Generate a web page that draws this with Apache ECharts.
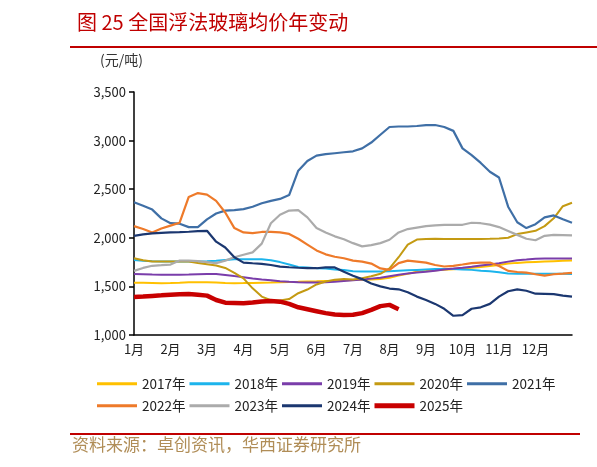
<!DOCTYPE html>
<html>
<head>
<meta charset="utf-8">
<script src="https://cdn.jsdelivr.net/npm/echarts@6/dist/echarts.min.js"></script>
<style>
html,body{margin:0;padding:0;background:#fff;}
#c{width:597px;height:467px;}
</style>
</head>
<body>
<div id="c"></div>
<script>
// Sampled every quarter month, starting Jan 1 (x = index * 0.25 months)
const seriesNames = ['2017年','2018年','2019年','2020年','2021年','2022年','2023年','2024年','2025年'];
const monthLabels = ['1月','2月','3月','4月','5月','6月','7月','8月','9月','10月','11月','12月'];
const yTicks = [1000,1500,2000,2500,3000,3500];

const y2017 = [1538,1537,1535,1533,1535,1538,1542,1543,1543,1540,1535,1533,1534,1536,1538,1540,1543,1545,1547,1550,1552,1555,1558,1562,1565,1568,1570,1575,1590,1612,1630,1650,1658,1665,1672,1677,1685,1692,1700,1710,1720,1735,1742,1748,1752,1756,1760,1763,1766];
const y2018 = [1772,1765,1760,1757,1756,1756,1756,1756,1758,1763,1772,1780,1780,1780,1780,1770,1750,1725,1700,1695,1688,1683,1675,1668,1655,1653,1653,1653,1655,1660,1665,1670,1674,1678,1680,1680,1675,1670,1662,1655,1645,1632,1630,1629,1629,1629,1629,1629,1628];
const y2019 = [1628,1625,1622,1620,1619,1620,1622,1625,1627,1628,1618,1606,1595,1582,1572,1563,1553,1547,1542,1540,1539,1542,1548,1555,1562,1570,1580,1590,1605,1620,1633,1643,1650,1662,1675,1683,1692,1703,1715,1725,1738,1755,1770,1777,1785,1787,1787,1787,1787];
const y2020 = [1790,1770,1757,1756,1756,1756,1755,1740,1728,1715,1690,1640,1582,1480,1395,1358,1355,1370,1430,1468,1520,1550,1568,1575,1570,1585,1605,1630,1685,1800,1930,1982,1987,1990,1988,1987,1987,1987,1988,1990,1993,2000,2038,2055,2072,2120,2200,2325,2360];
const y2021 = [2365,2330,2290,2200,2150,2145,2110,2110,2190,2250,2280,2285,2295,2320,2355,2380,2400,2440,2690,2790,2845,2860,2870,2880,2890,2920,2980,3060,3140,3145,3145,3150,3160,3160,3140,3100,2920,2850,2770,2680,2620,2320,2160,2100,2140,2210,2230,2190,2155];
const y2022 = [2120,2090,2055,2095,2125,2155,2420,2460,2445,2380,2260,2100,2055,2048,2060,2060,2055,2040,1990,1930,1870,1830,1805,1790,1765,1755,1735,1685,1670,1740,1765,1755,1745,1720,1705,1712,1725,1740,1745,1745,1710,1660,1648,1642,1625,1610,1625,1632,1640];
const y2023 = [1660,1690,1712,1718,1725,1766,1766,1760,1750,1740,1765,1800,1825,1850,1940,2150,2237,2280,2285,2210,2100,2055,2015,1985,1945,1912,1925,1945,1980,2055,2090,2105,2120,2128,2132,2134,2134,2155,2150,2135,2110,2070,2030,1990,1975,2020,2030,2028,2025];
const y2024 = [2020,2035,2045,2050,2055,2058,2062,2068,2072,1960,1900,1800,1745,1738,1732,1720,1704,1697,1692,1688,1687,1695,1695,1650,1610,1575,1530,1500,1478,1470,1440,1395,1360,1320,1270,1198,1205,1270,1285,1320,1395,1450,1470,1455,1425,1423,1420,1405,1395];
const y2025 = [1390,1395,1402,1408,1415,1420,1422,1415,1405,1360,1333,1330,1327,1335,1345,1350,1343,1320,1285,1265,1245,1225,1210,1206,1208,1225,1258,1297,1310,1265];

const allY = [y2017,y2018,y2019,y2020,y2021,y2022,y2023,y2024,y2025];
const colors = ['#FFC000','#1CB4EC','#7A3DAA','#C49A12','#3F6FA6','#EE7A2A','#ABABAB','#1B3770','#C80000'];
const widths = [2,2,2,2,2.2,2.2,2.2,2.2,4.5];

const chart = echarts.init(document.getElementById('c'), null, {renderer:'canvas'});
const FONT = '"Noto Sans CJK SC", "Liberation Sans", sans-serif';

const series = allY.map((ys, k) => ({
  name: seriesNames[k],
  type: 'line',
  symbol: 'none',
  smooth: false,
  z: k === 8 ? 10 : 3,
  lineStyle: { color: colors[k], width: widths[k] },
  itemStyle: { color: colors[k] },
  data: ys.map((v, i) => [i * 0.25, v])
}));

const legends = seriesNames.map((n, k) => ({
  data: [n],
  left: 97 + (k % 5) * 92.5,
  top: k < 5 ? 377 : 399,
  icon: 'rect',
  itemWidth: 40,
  itemHeight: k === 8 ? 5 : 3,
  itemGap: 0,
  itemStyle: { color: colors[k] },
  textStyle: { fontFamily: FONT, fontSize: 13.5, color: '#222', padding: [0,0,0,0] },
  padding: 0
}));

chart.setOption({
  backgroundColor: '#fff',
  animation: false,
  title: {
    text: '图 25 全国浮法玻璃均价年变动',
    left: 72, top: 7,
    textStyle: { fontFamily: FONT, fontSize: 20, fontWeight: 'normal', color: '#C00000' }
  },
  legend: legends,
  grid: { left: 134, right: 25, top: 92, bottom: 132, containLabel: false },
  xAxis: {
    type: 'value', min: 0, max: 12, interval: 1,
    axisLine: { show: true, lineStyle: { color: '#000', width: 1.5 } },
    axisTick: { show: false },
    splitLine: { show: false },
    axisLabel: {
      fontFamily: FONT, fontSize: 13, color: '#222', margin: 8,
      formatter: v => (v < 12 ? monthLabels[v] : '')
    }
  },
  yAxis: {
    type: 'value', min: yTicks[0], max: yTicks[yTicks.length-1], interval: 500,
    axisLine: { show: true, lineStyle: { color: '#000', width: 1.5 } },
    axisTick: { show: true, length: 5, lineStyle: { color: '#000', width: 1.5 } },
    splitLine: { show: false },
    axisLabel: {
      fontFamily: FONT, fontSize: 13, color: '#222', margin: 8,
      formatter: v => v.toLocaleString('en-US')
    }
  },
  graphic: [
    { type: 'rect', shape: { x: 70, y: 46, width: 527, height: 2 }, style: { fill: '#C00000' } },
    { type: 'text', left: 100, top: 53, style: { text: '(元/吨)', font: '14px ' + FONT, fill: '#333' } },
    { type: 'rect', shape: { x: 70, y: 433, width: 510, height: 2 }, style: { fill: '#C00000' } },
    { type: 'text', left: 72, top: 436, style: { text: '资料来源：卓创资讯，华西证券研究所', font: '17px ' + FONT, fill: '#B08D57' } }
  ],
  series: series
});
</script>
</body>
</html>
